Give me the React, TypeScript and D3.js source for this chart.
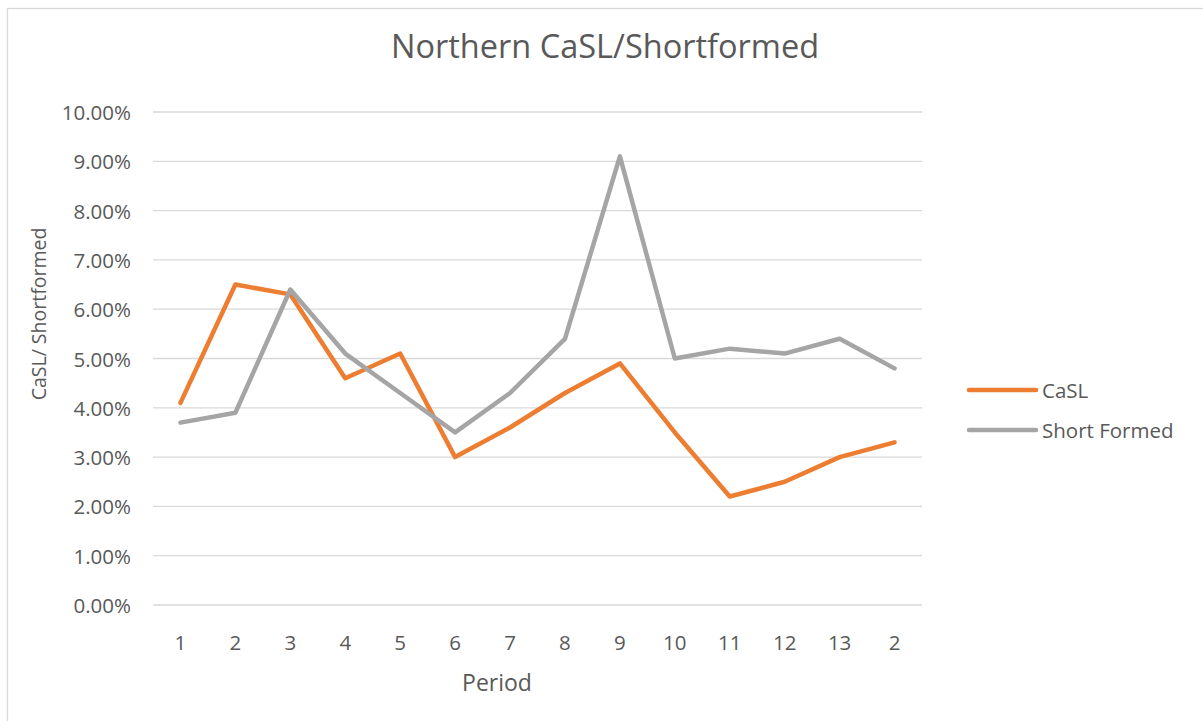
import React, { useEffect } from 'react';
import * as d3 from 'd3';

const periods = ['1', '2', '3', '4', '5', '6', '7', '8', '9', '10', '11', '12', '13', '2'];
const caslValues = [4.1, 6.5, 6.3, 4.6, 5.1, 3.0, 3.6, 4.3, 4.9, 3.5, 2.2, 2.5, 3.0, 3.3];
const shortFormedValues = [3.7, 3.9, 6.4, 5.1, 4.3, 3.5, 4.3, 5.4, 9.1, 5.0, 5.2, 5.1, 5.4, 4.8];
const yTicks = [0, 1, 2, 3, 4, 5, 6, 7, 8, 9, 10];

const seriesList = [
  { name: 'CaSL', values: caslValues, color: '#ED7D31' },
  { name: 'Short Formed', values: shortFormedValues, color: '#A5A5A5' },
];

const W = 1203;
const H = 721;
const FONT = '"Open Sans", "Liberation Sans", sans-serif';
const TEXT = '#595959';

export default function App() {
  useEffect(() => {
    document.body.style.margin = '0';
  }, []);

  const plot = { left: 153, right: 922, top: 112, bottom: 605 };

  const x = d3.scaleBand<number>()
    .domain(d3.range(periods.length))
    .range([plot.left, plot.right]);

  const y = d3.scaleLinear()
    .domain([0, 10])
    .range([plot.bottom, plot.top]);

  const line = d3.line<number>()
    .x((_, i) => (x(i) || 0) + x.bandwidth() / 2)
    .y(d => y(d));

  return (
    <svg width={W} height={H} style={{ display: 'block', background: '#fff' }} fontFamily={FONT}>
      <rect x={7.5} y={8.5} width={1200} height={720} fill="#fff" stroke="#D9D9D9" strokeWidth={1.3} />

      <text x={605} y={45} textAnchor="middle" dominantBaseline="central" fontSize={32.5} fill={TEXT}>
        Northern CaSL/Shortformed
      </text>

      {/* gridlines + y labels */}
      {yTicks.map(t => (
        <g key={t}>
          <line x1={plot.left} x2={plot.right} y1={y(t)} y2={y(t)} stroke="#D9D9D9" strokeWidth={1.3} />
          <text x={131} y={y(t)} textAnchor="end" dominantBaseline="central" fontSize={20.5} fill={TEXT}>
            {t.toFixed(2)}%
          </text>
        </g>
      ))}

      {/* x labels */}
      {periods.map((p, i) => (
        <text key={i} x={(x(i) || 0) + x.bandwidth() / 2} y={642} textAnchor="middle"
          dominantBaseline="central" fontSize={20.5} fill={TEXT}>
          {p}
        </text>
      ))}

      <text x={497} y={682} textAnchor="middle" dominantBaseline="central" fontSize={23} fill={TEXT}>
        Period
      </text>
      <text transform="translate(38,314) rotate(-90)" textAnchor="middle" dominantBaseline="central"
        fontSize={19.5} fill={TEXT}>
        CaSL/ Shortformed
      </text>

      {seriesList.map(s => (
        <path key={s.name} d={line(s.values) || ''} fill="none" stroke={s.color} strokeWidth={4.5}
          strokeLinejoin="round" strokeLinecap="round" />
      ))}

      {/* legend */}
      {seriesList.map((s, i) => (
        <g key={s.name} transform={`translate(0,${390 + i * 40})`}>
          <line x1={969} x2={1036} y1={0} y2={0} stroke={s.color} strokeWidth={4.5} strokeLinecap="round" />
          <text x={1042} y={0} dominantBaseline="central" fontSize={20.5} fill={TEXT}>{s.name}</text>
        </g>
      ))}
    </svg>
  );
}
